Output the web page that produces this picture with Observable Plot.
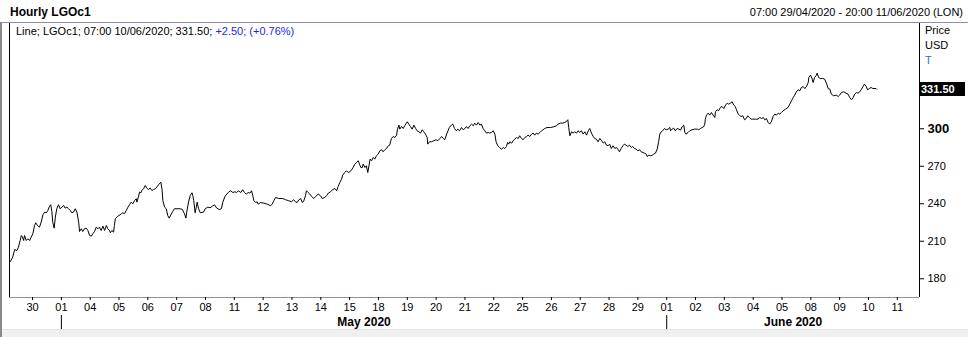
<!DOCTYPE html>
<html><head><meta charset="utf-8">
<script src="https://cdn.jsdelivr.net/npm/d3@7"></script>
<script src="https://cdn.jsdelivr.net/npm/@observablehq/plot@0.6"></script>
<style>
body{margin:0;background:#fff;font-family:"Liberation Sans",Arial,sans-serif;}
#wrap{position:relative;width:968px;height:337px;overflow:hidden;background:#fff;}
.abs{position:absolute;white-space:nowrap;line-height:12px;font-size:11px;color:#000;}
#wrap svg{position:absolute;left:0;top:0;}
</style></head><body>
<div id="wrap"></div>
<script>
// ---- text content ----
const title = "Hourly LGOc1";
const rangeText = "07:00 29/04/2020 - 20:00 11/06/2020 (LON)";
const legendMain = "Line; LGOc1; 07:00 10/06/2020; 331.50; ";
const legendChange = "+2.50; (+0.76%)";
const unitLabels = ["Price", "USD", "T"];
const lastPrice = 331.50;

// ---- axis content ----
// trading-day index -> day-of-month label (0 = 29 Apr, weekends skipped)
const dayLabels = ["29","30","01","04","05","06","07","08","11","12","13","14","15","18","19","20","21","22","25","26","27","28","29","01","02","03","04","05","08","09","10","11"];
const monthNames = ["May 2020", "June 2020"];
const monthStartDay = [2, 23];
const yTicks = [180, 210, 240, 270];
const yTickMajor = [300];
const xDomain = [0.2, 31.77];
const yDomain = [165, 385];

// ---- series: [trading-day index (fractional = time of day), price USD/T] ----
const series = [
[0.23,193.8],[0.31,197.3],[0.38,203.4],[0.46,202.6],[0.51,205.3],[0.57,210.6],[0.61,214.6],[0.65,213.3],[0.69,210.6],[0.72,214.6],
[0.78,210.6],[0.84,212.0],[0.90,210.6],[0.95,213.3],[1.01,216.0],[1.07,222.6],[1.11,224.8],[1.17,222.6],[1.24,221.3],[1.30,225.3],
[1.36,231.2],[1.42,233.3],[1.48,232.8],[1.53,234.6],[1.59,238.1],[1.63,239.2],[1.67,233.8],[1.70,225.3],[1.75,220.5],[1.79,229.3],
[1.84,236.0],[1.90,239.2],[1.96,236.0],[2.02,237.3],[2.08,238.6],[2.13,236.5],[2.19,237.3],[2.25,236.0],[2.31,234.6],[2.36,232.8],
[2.42,233.3],[2.48,236.0],[2.54,233.3],[2.60,225.3],[2.63,217.8],[2.69,220.0],[2.74,217.8],[2.80,220.0],[2.86,220.5],[2.92,218.6],
[2.98,214.6],[3.04,214.1],[3.09,216.0],[3.15,217.8],[3.21,221.3],[3.27,220.0],[3.32,221.3],[3.38,218.6],[3.44,222.1],[3.50,218.6],
[3.56,222.6],[3.61,220.0],[3.67,218.6],[3.70,216.8],[3.75,218.6],[3.81,217.3],[3.84,222.6],[3.87,228.0],[3.96,230.1],[4.04,231.2],
[4.13,232.8],[4.19,232.0],[4.25,234.6],[4.31,237.3],[4.36,239.2],[4.42,241.3],[4.48,240.0],[4.54,242.6],[4.60,244.0],[4.62,241.3],
[4.68,246.1],[4.71,249.3],[4.76,248.8],[4.79,250.6],[4.85,252.0],[4.91,254.6],[4.96,252.5],[5.02,251.4],[5.08,252.5],[5.14,250.6],
[5.20,251.4],[5.26,252.0],[5.31,253.3],[5.37,255.2],[5.45,257.3],[5.49,252.0],[5.52,242.6],[5.58,237.3],[5.64,236.0],[5.69,230.6],
[5.74,228.5],[5.80,231.2],[5.86,233.8],[5.92,236.0],[6.01,236.0],[6.12,236.0],[6.20,235.4],[6.24,233.3],[6.27,232.0],[6.32,228.5],
[6.35,233.3],[6.41,241.3],[6.47,246.6],[6.53,248.8],[6.56,246.6],[6.59,242.6],[6.64,232.8],[6.68,237.3],[6.71,241.3],[6.76,236.0],
[6.82,232.8],[6.93,233.3],[6.99,236.0],[7.08,237.3],[7.16,236.8],[7.24,238.1],[7.31,239.2],[7.39,236.5],[7.48,235.4],[7.55,236.0],
[7.60,241.3],[7.68,246.1],[7.80,249.3],[7.87,250.4],[7.95,249.0],[8.02,249.6],[8.08,249.0],[8.14,250.4],[8.22,249.0],[8.29,251.2],
[8.35,249.0],[8.41,247.7],[8.48,249.0],[8.54,248.5],[8.60,250.4],[8.64,246.4],[8.68,242.4],[8.74,241.0],[8.79,241.6],[8.83,239.7],
[8.91,241.0],[9.02,240.5],[9.14,239.7],[9.26,238.4],[9.31,239.7],[9.37,242.4],[9.43,245.0],[9.54,244.2],[9.68,244.2],[9.78,243.2],
[9.89,242.4],[9.98,241.6],[10.06,243.2],[10.12,241.6],[10.18,241.0],[10.24,243.2],[10.30,244.2],[10.36,241.0],[10.41,242.4],[10.47,246.4],
[10.50,250.4],[10.56,249.0],[10.62,247.7],[10.68,245.8],[10.76,244.2],[10.82,245.8],[10.91,247.7],[10.99,246.4],[11.05,244.2],[11.13,245.0],
[11.20,246.4],[11.26,248.5],[11.34,249.6],[11.40,251.2],[11.49,252.2],[11.55,250.4],[11.60,253.8],[11.66,257.0],[11.72,259.7],[11.76,262.9],
[11.83,265.0],[11.89,266.4],[11.95,265.0],[12.01,265.6],[12.07,267.2],[12.12,269.0],[12.18,271.7],[12.24,273.0],[12.30,274.4],[12.34,271.7],
[12.39,269.0],[12.44,269.0],[12.47,271.7],[12.53,269.0],[12.58,270.4],[12.63,265.0],[12.67,270.4],[12.71,275.7],[12.76,274.4],[12.82,277.0],
[12.87,275.7],[12.93,278.4],[12.99,279.7],[13.05,282.4],[13.11,283.2],[13.16,281.6],[13.22,283.2],[13.28,284.2],[13.34,286.4],[13.39,286.9],
[13.45,292.2],[13.51,293.8],[13.57,293.0],[13.63,294.9],[13.66,299.7],[13.71,302.9],[13.74,299.7],[13.80,301.8],[13.86,300.2],[13.91,302.4],
[14.00,305.6],[14.05,303.7],[14.11,301.8],[14.17,299.7],[14.23,302.9],[14.29,300.2],[14.34,298.4],[14.40,297.6],[14.46,296.5],[14.52,299.2],
[14.57,297.6],[14.63,295.7],[14.69,293.0],[14.71,287.7],[14.77,289.6],[14.84,289.6],[14.92,290.4],[15.00,291.2],[15.06,290.4],[15.13,292.2],
[15.19,293.8],[15.25,292.2],[15.30,291.2],[15.38,296.5],[15.46,301.0],[15.53,302.9],[15.58,303.7],[15.64,300.2],[15.70,298.4],[15.75,299.7],
[15.81,298.4],[15.88,301.0],[15.94,299.2],[16.00,300.2],[16.05,301.8],[16.11,300.2],[16.17,302.4],[16.23,303.7],[16.29,302.4],[16.34,304.5],
[16.40,302.9],[16.46,305.0],[16.52,302.9],[16.57,303.7],[16.63,300.2],[16.69,298.4],[16.75,296.5],[16.81,297.0],[16.86,296.5],[16.92,297.0],
[16.98,298.4],[17.04,295.7],[17.08,289.6],[17.14,286.4],[17.20,285.0],[17.27,283.7],[17.33,285.0],[17.38,284.2],[17.44,285.8],[17.48,289.0],
[17.52,287.7],[17.56,289.6],[17.62,288.5],[17.67,290.4],[17.73,291.7],[17.79,293.0],[17.85,292.2],[17.90,294.4],[17.96,292.2],[18.02,291.2],
[18.08,293.0],[18.14,293.8],[18.19,294.9],[18.25,293.8],[18.31,295.7],[18.37,296.5],[18.42,294.9],[18.48,296.5],[18.54,295.7],[18.60,297.0],
[18.66,298.4],[18.71,299.2],[18.77,300.2],[18.85,301.0],[18.97,301.0],[19.08,301.6],[19.18,302.4],[19.23,303.7],[19.31,304.5],[19.39,304.5],
[19.46,305.0],[19.51,305.6],[19.57,307.2],[19.60,301.0],[19.64,294.4],[19.70,297.6],[19.75,296.5],[19.81,297.6],[19.87,296.5],[19.93,298.4],
[19.98,297.0],[20.04,298.4],[20.10,295.7],[20.16,297.6],[20.22,294.9],[20.28,298.4],[20.33,300.2],[20.39,296.5],[20.45,293.8],[20.50,292.2],
[20.56,291.7],[20.62,289.6],[20.68,292.2],[20.74,290.4],[20.80,288.5],[20.85,289.6],[20.91,286.9],[20.97,286.4],[21.02,287.7],[21.08,284.2],
[21.14,286.4],[21.20,284.2],[21.26,285.0],[21.32,283.2],[21.36,281.6],[21.42,284.2],[21.48,286.4],[21.53,287.7],[21.59,286.9],[21.65,285.8],
[21.71,286.9],[21.77,285.0],[21.82,285.8],[21.88,284.2],[21.94,283.7],[22.00,282.4],[22.06,283.2],[22.11,281.6],[22.17,281.0],[22.23,280.5],
[22.29,279.7],[22.32,277.8],[22.38,278.9],[22.44,278.4],[22.50,278.9],[22.55,279.7],[22.61,280.5],[22.67,283.7],[22.72,289.6],[22.76,295.7],
[22.81,297.6],[22.86,298.4],[22.92,300.2],[22.98,299.2],[23.05,299.7],[23.11,301.0],[23.13,298.4],[23.19,299.7],[23.24,300.5],[23.30,298.4],
[23.36,300.2],[23.42,299.7],[23.48,298.9],[23.54,301.8],[23.59,302.9],[23.63,297.0],[23.67,295.7],[23.74,297.0],[23.80,298.4],[23.88,299.2],
[23.97,299.7],[24.06,299.7],[24.11,299.2],[24.17,300.2],[24.23,301.0],[24.29,301.8],[24.32,303.7],[24.34,307.7],[24.38,310.9],[24.44,312.5],
[24.49,310.9],[24.55,313.0],[24.61,310.9],[24.67,309.0],[24.69,313.6],[24.75,315.2],[24.80,314.4],[24.86,317.0],[24.92,317.8],[24.98,316.2],
[25.04,318.9],[25.10,320.5],[25.15,319.7],[25.21,320.5],[25.27,321.6],[25.33,318.9],[25.38,317.8],[25.42,315.2],[25.48,311.7],[25.52,310.9],
[25.58,309.8],[25.64,310.4],[25.70,307.2],[25.76,308.2],[25.81,310.4],[25.87,309.0],[25.93,307.7],[25.98,307.7],[26.08,307.7],[26.17,307.7],
[26.23,309.0],[26.29,308.2],[26.35,309.0],[26.40,307.2],[26.46,308.2],[26.52,305.0],[26.57,303.7],[26.63,305.6],[26.69,309.8],[26.75,311.7],
[26.81,310.9],[26.87,312.5],[26.92,311.7],[26.98,313.0],[27.04,314.4],[27.12,315.7],[27.21,317.0],[27.27,319.7],[27.33,322.4],[27.39,325.0],
[27.44,326.9],[27.50,329.6],[27.56,331.2],[27.62,330.4],[27.67,333.0],[27.73,333.8],[27.79,332.2],[27.85,333.8],[27.91,337.0],[27.93,341.0],
[27.99,342.9],[28.05,339.7],[28.08,337.0],[28.13,341.0],[28.18,342.4],[28.22,344.5],[28.27,341.0],[28.33,340.2],[28.41,340.2],[28.48,339.7],
[28.54,336.5],[28.60,332.2],[28.66,331.7],[28.71,327.7],[28.79,326.4],[28.88,326.9],[28.95,325.8],[29.00,326.9],[29.06,329.0],[29.14,329.6],
[29.22,328.5],[29.29,327.7],[29.35,325.0],[29.41,323.2],[29.47,325.0],[29.52,327.7],[29.58,329.0],[29.64,328.5],[29.70,329.6],[29.76,331.7],
[29.81,333.8],[29.86,335.7],[29.92,333.8],[29.97,331.2],[30.03,332.2],[30.09,333.0],[30.15,332.2],[30.26,332.2],[30.29,331.5]
];

const months = monthNames.map((label, i) => ({
  label,
  start: monthStartDay[i],
  mid: (monthStartDay[i] + (i + 1 < monthStartDay.length ? monthStartDay[i + 1] : xDomain[1])) / 2
}));

const font = "Liberation Sans, Arial, sans-serif";
const gray = "#8e8ea6";

const plot = Plot.plot({
  width: 968, height: 337,
  marginTop: 22, marginLeft: 9, marginRight: 49, marginBottom: 40,
  style: {fontFamily: font, fontSize: "11px", color: "#000", background: "transparent", overflow: "visible"},
  x: {domain: xDomain, label: null},
  y: {domain: yDomain, label: null},
  marks: [
    Plot.ruleY([yDomain[0]], {stroke: gray}),
    Plot.ruleX([xDomain[0]], {stroke: "#000"}),
    Plot.ruleX([xDomain[1]], {stroke: "#000"}),
    Plot.line(series, {x: d => d[0], y: d => d[1], stroke: "#000", strokeWidth: 1}),
    Plot.axisX({ticks: d3.range(1, dayLabels.length), tickFormat: i => dayLabels[i], tickSize: 3, tickPadding: 3, fontSize: 11, label: null}),
    Plot.axisY(yTicks, {anchor: "right", tickSize: 4, tickPadding: 4, fontSize: 11, label: null}),
    Plot.axisY(yTickMajor, {anchor: "right", tickSize: 4, tickPadding: 4, fontSize: 13, fontWeight: "bold", label: null}),
    Plot.ruleX(months, {x: "start", dy: 33, insetTop: 260, stroke: "#000"}),
    Plot.text(months, {x: "mid", text: "label", frameAnchor: "bottom", dy: 28, fontWeight: "bold", fontSize: 12})
  ]
});

const wrap = document.getElementById("wrap");
wrap.appendChild(plot);

function addDiv(html, style) {
  const d = document.createElement("div");
  d.className = "abs";
  d.innerHTML = html;
  Object.assign(d.style, style);
  wrap.appendChild(d);
  return d;
}
// frame decorations
addDiv("", {left: "0px", top: "22px", width: "968px", height: "1px", background: gray});
addDiv("", {left: "0px", top: "22px", width: "2px", height: "315px", background: "#8a8a8a"});
addDiv("", {left: "2px", top: "329px", width: "966px", height: "8px", background: "#f0f0f0", borderTop: "1px solid #e2e2e2"});

// header
addDiv(title, {left: "10px", top: "6px", fontWeight: "bold", fontSize: "12px"});
addDiv(rangeText, {right: "5px", top: "6px"});
addDiv(legendMain + '<span style="color:#2424e6">' + legendChange + '</span>', {left: "16px", top: "25px"});

// units
const uy = [24, 39, 54];
unitLabels.forEach((u, i) => addDiv(u, {left: "925px", top: uy[i] + "px", color: i === 2 ? "#2f6fd0" : "#000"}));

// last price box
const y0 = plot.scale("y").apply(lastPrice);
addDiv(lastPrice.toFixed(2), {left: "919px", top: (y0 - 7) + "px", width: "44px", height: "14px", lineHeight: "14px",
  background: "#000", color: "#fff", fontWeight: "bold", paddingLeft: "2px"});
</script>
</body></html>
